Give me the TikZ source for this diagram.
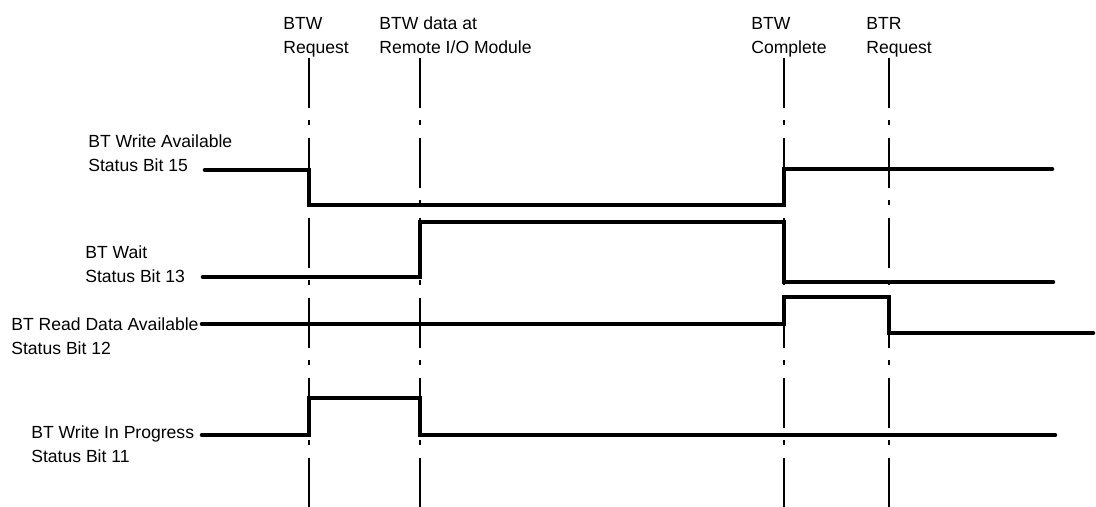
\documentclass[tikz,border=0pt]{standalone}
\usepackage{fontspec}
\setmainfont{Liberation Sans}
\usetikzlibrary{calc}

\begin{document}
\begin{tikzpicture}[
  x=0.02cm, y=-0.02cm,
  font=\fontsize{10}{13.6}\selectfont,
  lbl/.style={align=left,inner sep=0pt,anchor=base west},
  signal/.style={line width=2.6pt,line cap=round,line join=miter},
  marker/.style={line width=1.2pt,dash pattern=on 1cm off 0.25cm on 0.1cm off 0.25cm},
]
\useasboundingbox (0,0) rectangle (1096,507);

% event times
\coordinate (tReq)  at (309,0);
\coordinate (tData) at (420,0);
\coordinate (tDone) at (784,0);
\coordinate (tRead) at (889,0);

% event labels (anchored at the last line)
\node[lbl] (btwreq)  at (283,53) {BTW\\Request};
\node[lbl] (btwdata) at (379,53) {BTW data at\\Remote I/O Module};
\node[lbl] (btwdone) at (751,53) {BTW\\Complete};
\node[lbl] (btrreq)  at (866,53) {BTR\\Request};

% signal labels
\node[lbl] (wravail) at (88,171) {BT Write Available\\Status Bit 15};
\node[lbl] (wait)    at (85,282) {BT Wait\\Status Bit 13};
\node[lbl] (rdavail) at (11,354) {BT Read Data Available\\Status Bit 12};
\node[lbl] (wrprog)  at (31,462) {BT Write In Progress\\Status Bit 11};

% markers
\foreach \t in {tReq,tData,tDone,tRead}
  \draw[marker] (\t |- 0,58) -- (\t |- 0,507);

% signals
\draw[signal] (205,170) -| (tReq |- 0,205) -| (tDone |- 0,169) -- (1052,169);
\draw[signal] (203,277) -| (tData |- 0,222) -| (tDone |- 0,282) -- (1053,282);
\draw[signal] (202,324) -| (tDone |- 0,297) -| (tRead |- 0,333) -- (1093,333);
\draw[signal] (202,435) -| (tReq |- 0,398) -| (tData |- 0,435) -- (1055,435);
\end{tikzpicture}
\end{document}
